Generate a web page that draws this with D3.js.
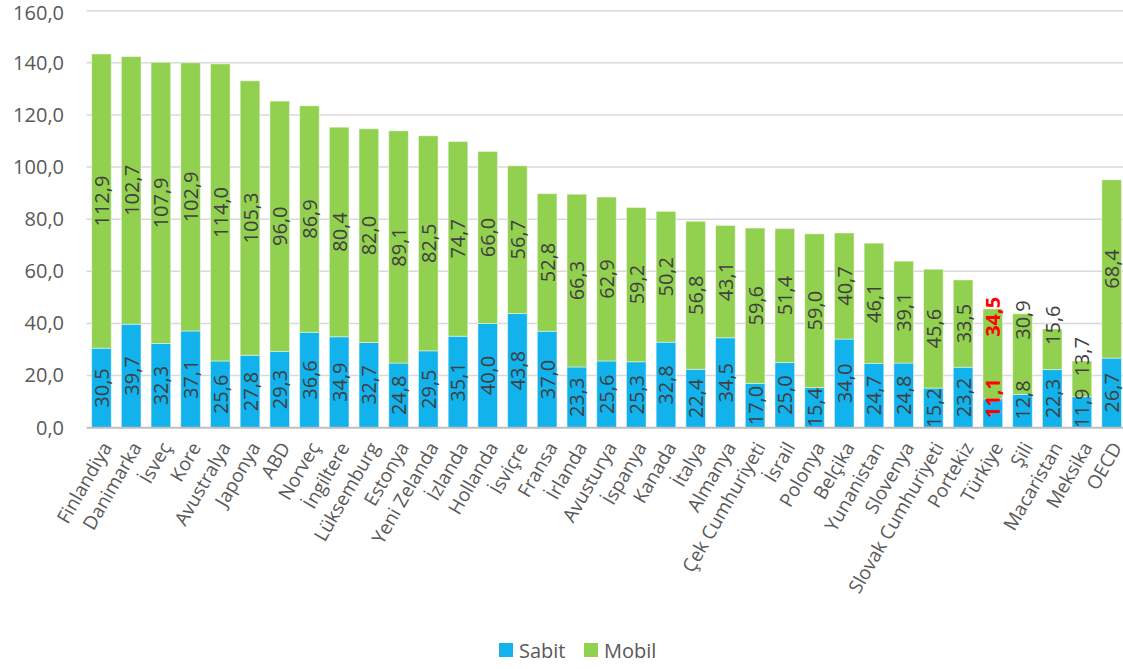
<!DOCTYPE html>
<html><head><meta charset="utf-8">
<script src="https://cdn.jsdelivr.net/npm/d3@7"></script>
<style>body{margin:0;background:#fff}svg{display:block;font-family:"Open Sans",sans-serif}</style>
</head><body><svg id="c" width="1123" height="669"></svg>
<script>
const categories = ["Finlandiya","Danimarka","İsveç","Kore","Avustralya","Japonya","ABD","Norveç","İngiltere","Lüksemburg","Estonya","Yeni Zelanda","İzlanda","Hollanda","İsviçre","Fransa","İrlanda","Avusturya","İspanya","Kanada","İtalya","Almanya","Çek Cumhuriyeti","İsrail","Polonya","Belçika","Yunanistan","Slovenya","Slovak Cumhuriyeti","Portekiz","Türkiye","Şili","Macaristan","Meksika","OECD"];
const sabit = [30.5,39.7,32.3,37.1,25.6,27.8,29.3,36.6,34.9,32.7,24.8,29.5,35.1,40.0,43.8,37.0,23.3,25.6,25.3,32.8,22.4,34.5,17.0,25.0,15.4,34.0,24.7,24.8,15.2,23.2,11.1,12.8,22.3,11.9,26.7];
const mobil = [112.9,102.7,107.9,102.9,114.0,105.3,96.0,86.9,80.4,82.0,89.1,82.5,74.7,66.0,56.7,52.8,66.3,62.9,59.2,50.2,56.8,43.1,59.6,51.4,59.0,40.7,46.1,39.1,45.6,33.5,34.5,30.9,15.6,13.7,68.4];
const seriesNames = ["Sabit","Mobil"];
const yTicks = [0,20,40,60,80,100,120,140,160];
const highlight = "Türkiye";

// manual label nudges (pixels upward), as in the source chart
const nudgeMobil = {"Türkiye":37,"Şili":34,"Macaristan":24,"Meksika":22};
const nudgeSabit = {"Türkiye":15,"Şili":11,"Meksika":4};

const colors = {Sabit:"#12B2EC", Mobil:"#92D050"};
const svg = d3.select("#c");
const x = d3.scaleBand().domain(categories).range([86.6,1126.5]).paddingInner(0.34).paddingOuter(0.17);
const y = d3.scaleLinear().domain([0,160]).range([427.7,10.7]);
const fmt = v => d3.format(".1f")(v).replace(".", ",");

// gridlines
svg.append("g").selectAll("line").data(yTicks.filter(d=>d>0)).join("line")
  .attr("x1",86.6).attr("x2",1123).attr("y1",d=>y(d)).attr("y2",d=>y(d))
  .attr("stroke","#D9D9D9").attr("stroke-width",1.5);

// y axis
const yAxis = svg.append("g").attr("transform","translate(64,0)")
  .call(d3.axisLeft(y).tickValues(yTicks).tickFormat(fmt).tickSize(0).tickPadding(0));
yAxis.select(".domain").remove();
yAxis.selectAll("text").attr("font-size",20).attr("fill","#595959").attr("font-family","Open Sans")
  .attr("dy",d=>d===160?"0.42em":"0.32em");

const data = categories.map((c,i)=>({cat:c, Sabit:sabit[i], Mobil:mobil[i]}));
const stack = d3.stack().keys(seriesNames)(data);

const g = svg.append("g");
g.selectAll("g.s").data(stack).join("g").attr("fill",d=>colors[d.key])
  .selectAll("rect").data(d=>d).join("rect")
  .attr("x",d=>x(d.data.cat)).attr("width",x.bandwidth())
  .attr("y",d=>y(d[1])).attr("height",d=>y(d[0])-y(d[1]))
  .attr("stroke","rgba(255,255,255,0.45)").attr("stroke-width",1);

// axis line
svg.append("line").attr("x1",86.6).attr("x2",1123).attr("y1",y(0)).attr("y2",y(0))
  .attr("stroke","#BFBFBF").attr("stroke-width",2);

// value labels
stack.forEach(s=>{
  const nudge = s.key==="Sabit"?nudgeSabit:nudgeMobil;
  svg.append("g").selectAll("text").data(s).join("text")
    .attr("transform",d=>{
      const cx = x(d.data.cat)+x.bandwidth()/2;
      const cy = y((d[0]+d[1])/2) - (nudge[d.data.cat]||0);
      return `translate(${cx},${cy}) rotate(-90)`;
    })
    .attr("text-anchor","middle").attr("dominant-baseline","central")
    .attr("font-size",20)
    .attr("font-weight",d=>d.data.cat===highlight?"bold":"normal")
    .attr("fill",d=>d.data.cat===highlight?"#FF0000":"#404040")
    .text(d=>fmt(d[1]-d[0]));
});

// category labels
const xAxis = svg.append("g").attr("transform",`translate(0,${y(0)})`)
  .call(d3.axisBottom(x).tickSize(0).tickPadding(0));
xAxis.select(".domain").remove();
xAxis.selectAll("text")
  .attr("font-size",19).attr("fill","#595959").attr("font-family","Open Sans")
  .attr("text-anchor","end").attr("dy",0).attr("y",0)
  .attr("dominant-baseline","central")
  .attr("transform","translate(5,16) rotate(-60)");

// legend
const leg = svg.append("g");
const legItems = [{k:"Sabit",x:499},{k:"Mobil",x:584}];
legItems.forEach(it=>{
  leg.append("rect").attr("x",it.x).attr("y",643).attr("width",14).attr("height",14).attr("fill",colors[it.k]);
  leg.append("text").attr("x",it.x+20).attr("y",650).attr("dominant-baseline","central")
    .attr("font-size",20).attr("fill","#595959").text(it.k);
});
</script></body></html>
